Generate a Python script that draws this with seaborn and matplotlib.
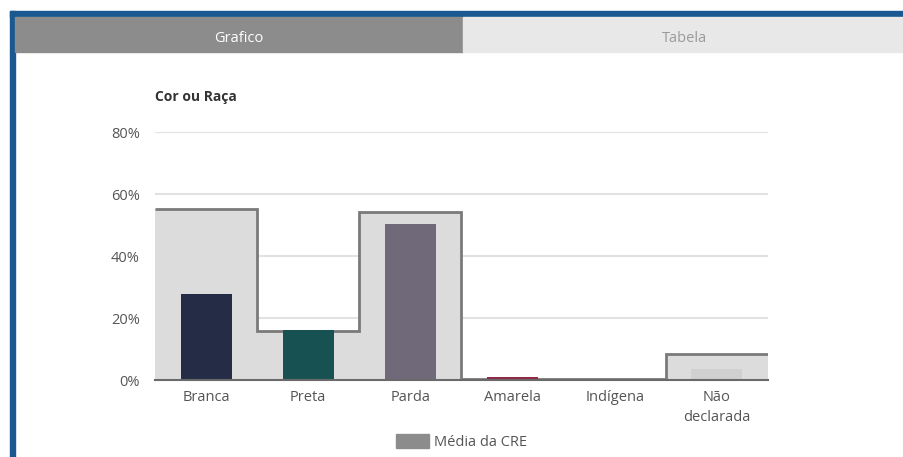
import matplotlib
matplotlib.use("Agg")
import matplotlib.pyplot as plt
from matplotlib.patches import Rectangle, Patch
import seaborn as sns
import numpy as np

# data
categories = ["Branca", "Preta", "Parda", "Amarela", "Indígena", "Não\ndeclarada"]
school_pct = [27.6, 16.1, 50.4, 1.0, 0.4, 3.5]
cre_mean_pct = [55.2, 15.8, 54.3, 0.4, 0.3, 8.4]
bar_colors = ["#1f2a4a", "#0e5a5c", "#6e667c", "#a3173f", "#c77a86", "#d0d0d0"]
y_ticks = [0, 20, 40, 60, 80]

sns.set_theme(style="white")
plt.rcParams["font.family"] = ["Open Sans", "DejaVu Sans"]

W, H = 904, 457
fig = plt.figure(figsize=(W / 100, H / 100), dpi=100)

# frame + tabs
def px_rect(x0, y0, x1, y1, color):
    fig.patches.append(Rectangle((x0 / W, 1 - y1 / H), (x1 - x0) / W, (y1 - y0) / H,
                                 transform=fig.transFigure, color=color, zorder=0))

px_rect(10, 11, 904, 17, "#1a5891")
px_rect(10, 11, 15, 457, "#1a5891")
px_rect(15, 17, 463, 52, "#8c8c8c")
px_rect(463, 17, 904, 52, "#e8e8e8")
fig.text(239 / W, 1 - 36 / H, "Grafico", color="white", fontsize=10.5, ha="center", va="center_baseline")
fig.text(685 / W, 1 - 36 / H, "Tabela", color="#9a9a9a", fontsize=10.5, ha="center", va="center_baseline")

# plot area
left, right, top, bottom = 155, 768, 132, 380
ax = fig.add_axes([left / W, 1 - bottom / H, (right - left) / W, (bottom - top) / H])

sns.barplot(x=categories, y=cre_mean_pct, color="#dcdcdc", width=1.0, linewidth=0,
            ax=ax, zorder=1)
ax.stairs(cre_mean_pct, np.arange(-0.5, len(categories)), baseline=None,
          color="#7a7a7a", linewidth=2, zorder=2)
sns.barplot(x=categories, y=school_pct, hue=categories, palette=bar_colors,
            width=0.5, linewidth=0, legend=False, ax=ax, zorder=3)

ax.set_xlim(-0.5, len(categories) - 0.5)
ax.set_ylim(0, 80)
ax.set_yticks(y_ticks)
ax.set_yticklabels([f"{t}%" for t in y_ticks])
ax.grid(axis="y", color="#e2e2e2", linewidth=1.5, zorder=0)
ax.set_axisbelow(True)
for s in ["top", "right", "left"]:
    ax.spines[s].set_visible(False)
ax.spines["bottom"].set_color("#6a6a6a")
ax.spines["bottom"].set_linewidth(1.5)
ax.spines["bottom"].set_zorder(4)
ax.tick_params(axis="y", length=0, pad=11, labelsize=10.5, labelcolor="#555555")
ax.tick_params(axis="x", length=0, pad=7, labelsize=10.5, labelcolor="#555555")
for lbl in ax.get_xticklabels():
    lbl.set_linespacing(1.5)
ax.set_xlabel("")
ax.set_ylabel("")

fig.text(155 / W, 1 - 97 / H, "Cor ou Raça", fontsize=10, fontweight="bold",
         color="#333333", ha="left", va="center")

fig.legend(handles=[Patch(color="#8c8c8c", label="Média da CRE")],
           loc="center", bbox_to_anchor=(462 / W, 1 - 442 / H), frameon=False,
           fontsize=10.5, handlelength=2.2, handleheight=1.1, handletextpad=0.4,
           labelcolor="#555555")

fig.savefig("out.png", dpi=100)
